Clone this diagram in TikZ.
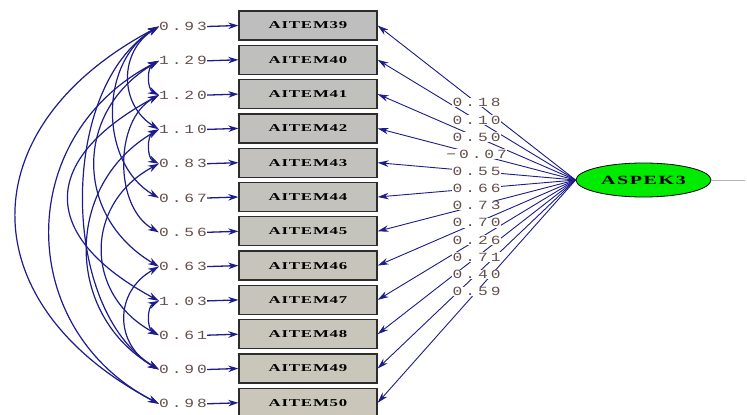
\documentclass[tikz,border=0pt]{standalone}
\usepackage{fontspec}
\usepackage{graphicx}
\usetikzlibrary{arrows.meta,shapes.geometric}
\newfontfamily\monof[LetterSpace=18]{Liberation Mono}
\newfontfamily\boxf[LetterSpace=5]{Liberation Serif Bold}
\newfontfamily\latf[LetterSpace=8]{Liberation Serif Bold}
\definecolor{navy}{RGB}{28,28,140}
\definecolor{lbl}{RGB}{100,80,75}
\definecolor{boxtop}{RGB}{190,190,190}
\definecolor{boxbot}{RGB}{202,199,186}
\definecolor{boxline}{RGB}{45,45,45}
\definecolor{latgreen}{RGB}{0,235,0}
\tikzset{
  itembox/.style={draw=boxline, line width=1.3pt, minimum width=138pt, minimum height=29pt, inner sep=0pt},
  errlbl/.style={inner sep=0pt, text=lbl},
  loadlbl/.style={inner sep=0.5pt, fill=white, text=lbl},
  errarrow/.style={navy, line width=1.3pt, -{Stealth[length=10pt,width=6.5pt]}},
  loadarrow/.style={navy, line width=0.9pt, -{Stealth[length=11pt,width=6.5pt]}},
  cov/.style={navy, line width=1.2pt, {Stealth[length=11pt,width=7pt]}-{Stealth[length=11pt,width=7pt]}},
  latent/.style={ellipse, draw=black, line width=0.8pt, fill=latgreen, minimum width=135pt, minimum height=34pt, inner sep=0pt}
}
\newcommand{\boxtxt}[1]{\scalebox{1.6}[1]{\fontsize{10.5}{10.5}\boxf #1}}
\newcommand{\numtxt}[1]{\scalebox{1.3}[1]{\fontsize{12.5}{12.5}\monof #1}}
\newcommand{\cv}[4]{\draw[cov] (#1.west) .. controls +(-#3,#4) and +(-#3,-#4) .. (#2.west);}
\begin{document}
\begin{tikzpicture}[x=1pt,y=-1pt]
\useasboundingbox (0,0) rectangle (747,415);
\fill[white] (0,0) rectangle (747,415);
\begin{scope}
\clip (0,0) rectangle (747,415);
% item boxes, error labels, error arrows
\foreach \n/\y/\p/\ev in {39/25.5/100/0.93, 40/59.8/91/1.29, 41/94.1/82/1.20, 42/128.4/73/1.10,
  43/162.7/64/0.83, 44/197/55/0.67, 45/231.3/46/0.56, 46/265.6/37/0.63, 47/299.9/28/1.03,
  48/334.2/19/0.61, 49/368.5/10/0.90, 50/402.8/0/0.98}{
  \node[itembox, fill=boxtop!\p!boxbot] (b\n) at (308,\y) {\boxtxt{AITEM\n}};
  \node[errlbl] (e\n) at (183,\y+1) {\numtxt{\ev}};
  \draw[errarrow] (e\n.east) -- (b\n.west);
}
\end{scope}
% latent variable
\node[latent] (lat) at (643.5,180) {\scalebox{1.6}[1]{\fontsize{12.5}{12.5}\latf ASPEK3}};
\coordinate (tail) at (745,180);
\draw[gray!60, line width=0.8pt] (lat.east) -- (tail);
% loadings
\foreach \n in {39,...,50}{
  \draw[loadarrow] (lat.west) -- (b\n.east);
}
\foreach \n/\v in {39/0.18, 40/0.10, 41/0.50, 42/−0.07, 43/0.55, 44/0.66, 45/0.73, 46/0.70,
  47/0.26, 48/0.71, 49/0.40, 50/0.59}{
  \path (lat.west) -- (b\n.east) node[loadlbl, pos=0.5] (l\n) {\numtxt{\v}};
}
% error covariances
\cv{e39}{e42}{40}{25}
\cv{e39}{e44}{60}{35}
\cv{e39}{e49}{100}{60}
\cv{e39}{e50}{190}{100}
\cv{e40}{e41}{12}{6}
\cv{e40}{e46}{85}{50}
\cv{e41}{e47}{120}{65}
\cv{e41}{e45}{45}{25}
\cv{e42}{e43}{12}{6}
\cv{e42}{e49}{95}{55}
\cv{e43}{e48}{75}{40}
\cv{e46}{e49}{45}{25}
\cv{e47}{e48}{12}{6}
\cv{e40}{e50}{145}{75}
\end{tikzpicture}
\end{document}
